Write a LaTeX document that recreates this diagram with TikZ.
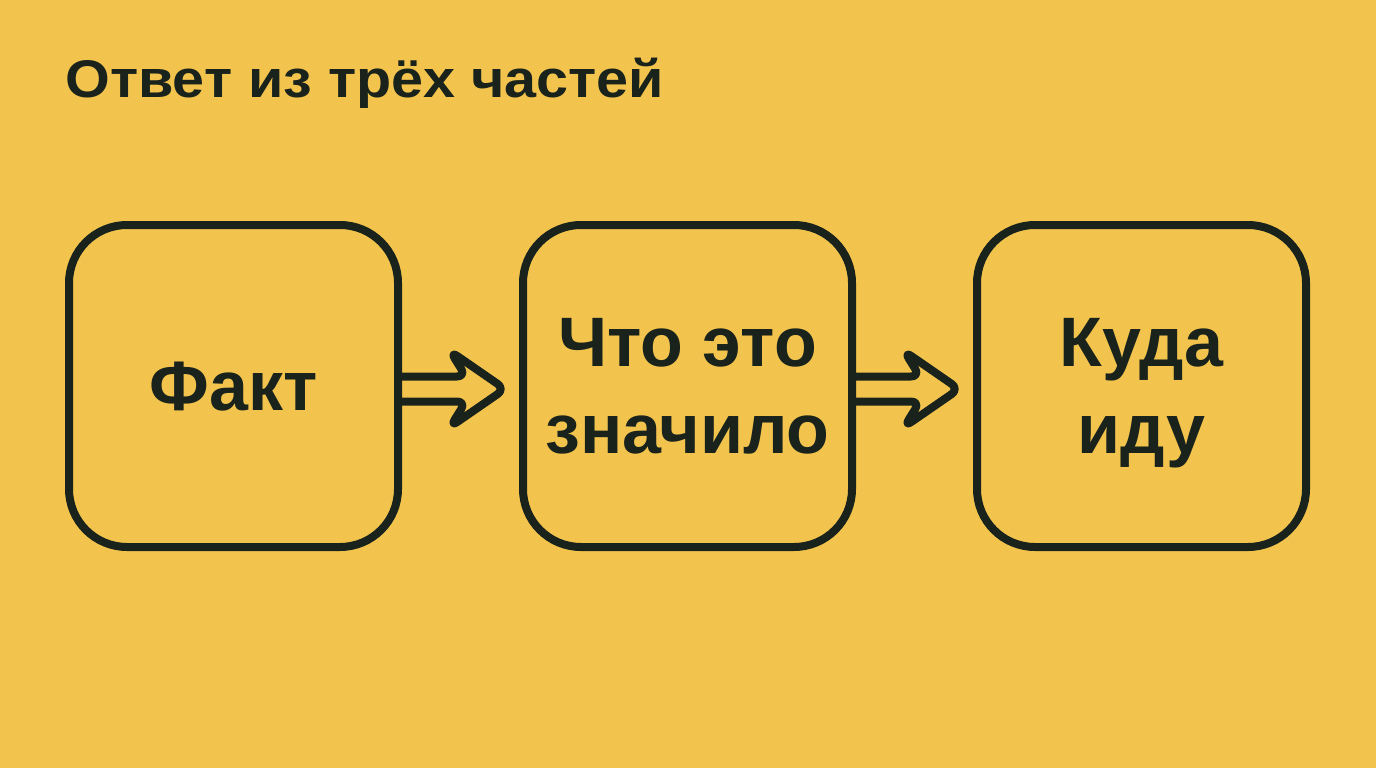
\documentclass[tikz,border=0pt]{standalone}
\usepackage{fontspec}
\setmainfont{Liberation Sans}
\usetikzlibrary{positioning,calc}
\definecolor{bgyellow}{HTML}{F2C44E}
\definecolor{ink}{HTML}{1A231B}

\begin{document}
\begin{tikzpicture}[
  node distance=62.5pt,
  every node/.style={text=ink},
  stage/.style={draw=ink, line width=4pt, rounded corners=29pt, minimum width=164.5pt, minimum height=161pt, outer sep=0pt, align=center, text depth=0pt, font=\fontsize{35}{43.5}\selectfont\bfseries},
  hollowarrow/.style={draw=ink, line width=4pt, rounded corners=4.5pt, line join=round}, % outlined arrow, shaft starts at the box
  ]

% background
\fill[bgyellow] (0,0) rectangle (688pt,384pt);
\useasboundingbox (0,0) rectangle (688pt,384pt);

% title
\node (title) [anchor=base west, inner sep=0pt, font=\fontsize{26.5}{30}\selectfont\bfseries\addfontfeature{FakeStretch=1.085}] at (32.5pt,335.5pt) {Ответ из трёх частей};

% three boxes, left to right
\node (fact) [stage] at (116.75pt,191pt) {Факт};
\node (meaning) [stage, right=of fact] {Что это\\значило};
\node (whereto) [stage, right=of meaning] {Куда\\иду};

% arrows (→)
\draw[hollowarrow] ($(fact.east)+(0,4.75pt)$) -- ++(34pt,0) -- ++(-8pt,12.75pt) -- ++(27.5pt,-19pt) -- ++(-27.5pt,-19pt) -- ++(8pt,12.75pt) -- ++(-34pt,0);
\draw[hollowarrow] ($(meaning.east)+(0,4.75pt)$) -- ++(34pt,0) -- ++(-8pt,12.75pt) -- ++(27.5pt,-19pt) -- ++(-27.5pt,-19pt) -- ++(8pt,12.75pt) -- ++(-34pt,0);

\end{tikzpicture}
\end{document}
